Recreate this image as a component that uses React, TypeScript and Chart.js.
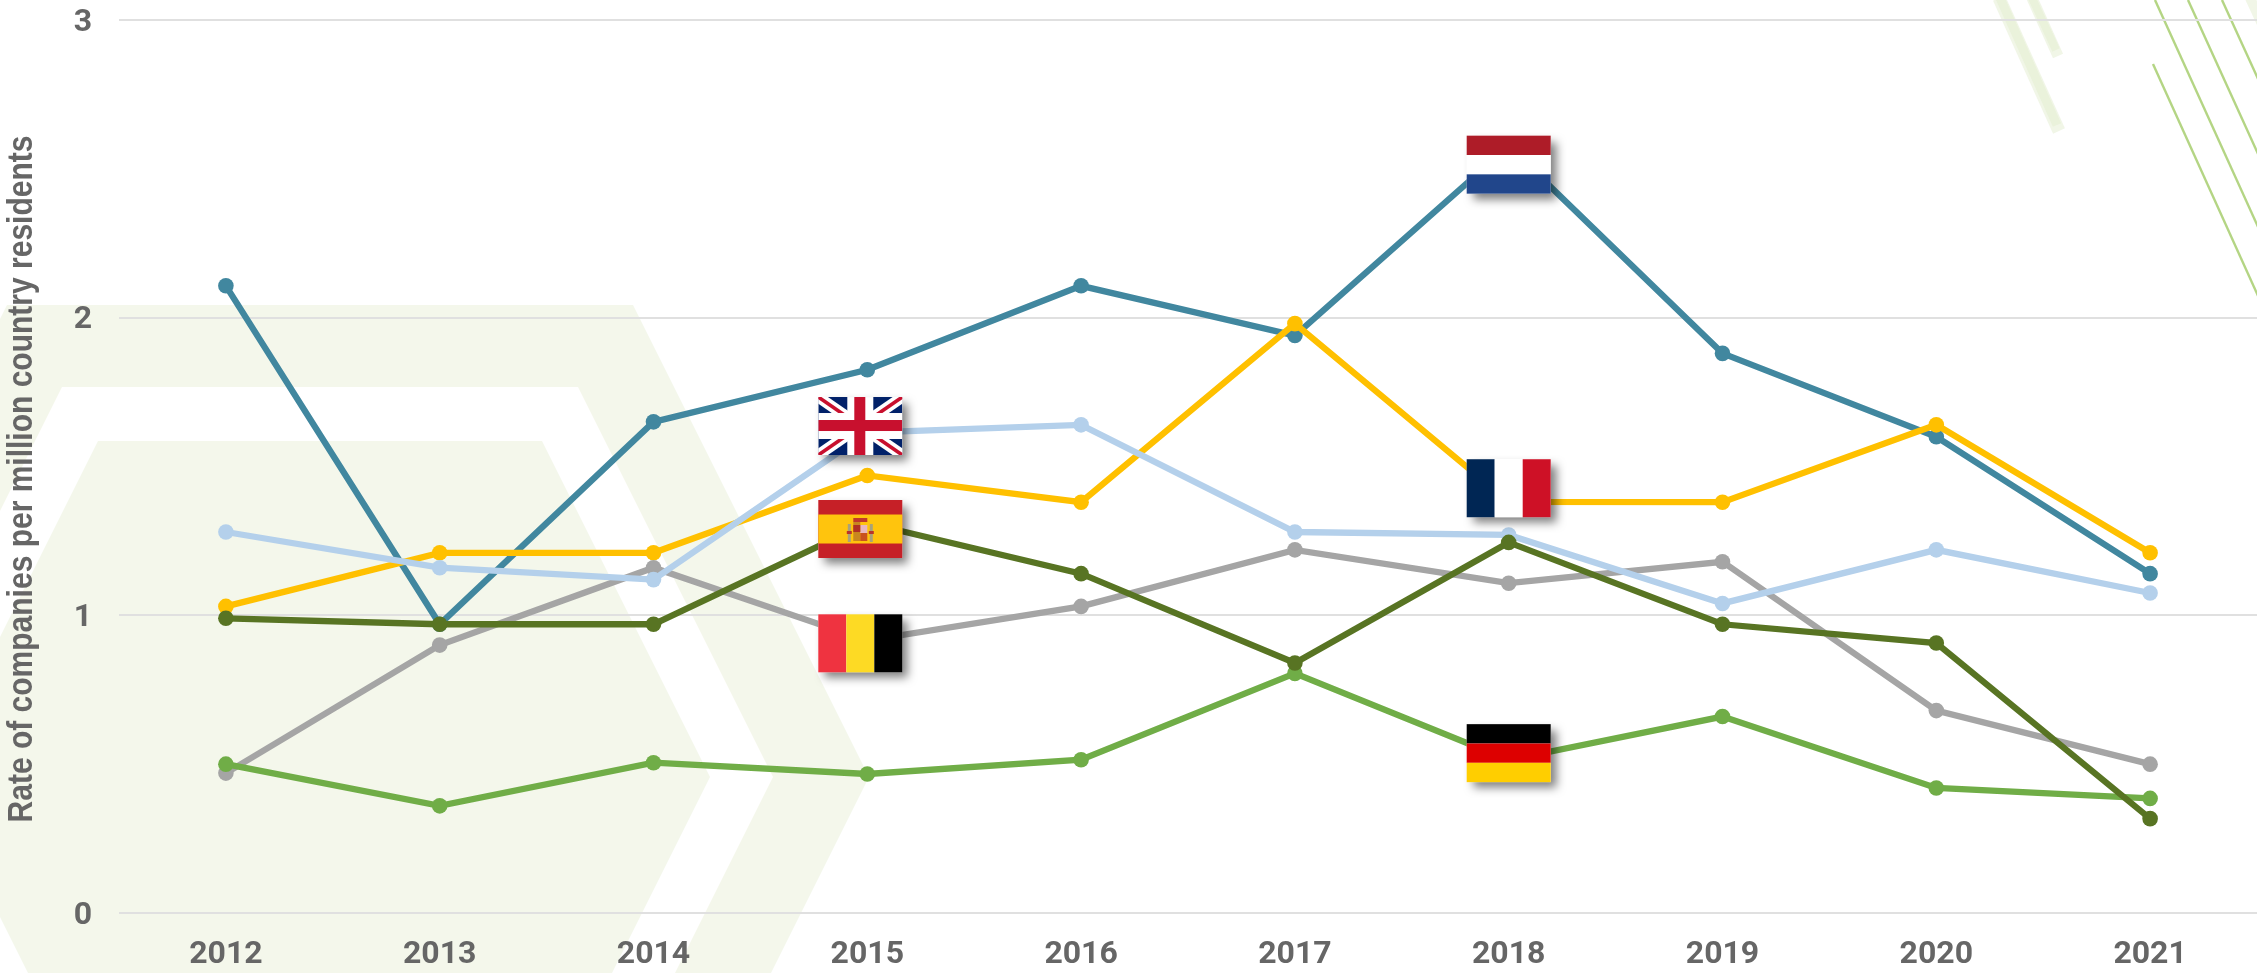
import React, { useEffect, useRef } from "react";
import { Chart, registerables } from "chart.js";

Chart.register(...registerables);

const years = ["2012", "2013", "2014", "2015", "2016", "2017", "2018", "2019", "2020", "2021"];
const netherlands = [2.107, 0.97, 1.65, 1.825, 2.107, 1.94, 2.576, 1.88, 1.6, 1.14];
const france = [1.03, 1.21, 1.21, 1.47, 1.38, 1.98, 1.381, 1.38, 1.64, 1.21];
const unitedKingdom = [1.28, 1.16, 1.12, 1.614, 1.64, 1.28, 1.27, 1.04, 1.22, 1.075];
const belgium = [0.47, 0.9, 1.16, 0.915, 1.03, 1.22, 1.108, 1.18, 0.68, 0.5];
const spain = [0.99, 0.97, 0.97, 1.31, 1.14, 0.84, 1.245, 0.97, 0.907, 0.317];
const germany = [0.5, 0.36, 0.505, 0.467, 0.515, 0.805, 0.514, 0.66, 0.42, 0.385];
const yTicks = [0, 1, 2, 3];
const yTitle = "Rate of companies per million country residents";

type FlagName = "uk" | "es" | "be" | "nl" | "fr" | "de";
const flagNames: FlagName[] = ["uk", "es", "be", "nl", "fr", "de"];
const flagYears = ["2015", "2015", "2015", "2018", "2018", "2018"];
const flagCentres = [1.636, 1.29, 0.906, 2.514, 1.427, 0.537];
const flagShiftX = [-7, -7, -7, 0, 0, 0];

const FLAG_W = 84;
const FLAG_H = 58;
const TICK_COLOR = "#666666";
const GRID_COLOR = "#E0E0E0";
const PALE = "#F4F7EB";

function hexagon(ctx: CanvasRenderingContext2D, left: number, right: number, top: number, fill: string) {
  const midY = 777;
  const run = (midY - top) / 2;
  ctx.beginPath();
  ctx.moveTo(left, top);
  ctx.lineTo(right, top);
  ctx.lineTo(right + run, midY);
  ctx.lineTo(right, midY * 2 - top);
  ctx.lineTo(left, midY * 2 - top);
  ctx.lineTo(left - run, midY);
  ctx.closePath();
  ctx.fillStyle = fill;
  ctx.fill();
}

function stroke(ctx: CanvasRenderingContext2D, x0: number, y0: number, x1: number, y1: number, w: number, c: string) {
  ctx.beginPath();
  ctx.moveTo(x0, y0);
  ctx.lineTo(x1, y1);
  ctx.lineWidth = w;
  ctx.strokeStyle = c;
  ctx.lineCap = "butt";
  ctx.stroke();
}

const backdrop = {
  id: "backdrop",
  beforeDraw(chart: Chart) {
    const ctx = chart.ctx;
    ctx.save();
    ctx.fillStyle = "#FFFFFF";
    ctx.fillRect(0, 0, chart.width, chart.height);
    hexagon(ctx, 7, 633, 305, PALE);
    hexagon(ctx, 62, 578, 387, "#FFFFFF");
    hexagon(ctx, 98, 542, 441, PALE);
    stroke(ctx, 1999, -2, 2059, 131, 13, "#F1F6E7");
    stroke(ctx, 2000, -2, 2057, 125, 9, "#EAF2DB");
    stroke(ctx, 2032, -2, 2058, 56, 11, "#F1F6E7");
    stroke(ctx, 2032, -2, 2056, 50, 8, "#EAF2DB");
    stroke(ctx, 2250, -2, 2262, 24, 10, "#F1F6E7");
    stroke(ctx, 2153, 64, 2259, 298, 2.4, "#B4D584");
    stroke(ctx, 2155, 0, 2259, 229, 2.4, "#B4D584");
    stroke(ctx, 2188, 0, 2259, 156, 2.4, "#B4D584");
    stroke(ctx, 2222, 0, 2259, 81, 2.4, "#B4D584");
    ctx.restore();
  },
};

function paintFlag(ctx: CanvasRenderingContext2D, name: FlagName, x: number, y: number) {
  const w = FLAG_W;
  const h = FLAG_H;
  const bars = (colors: string[], vertical: boolean) => {
    colors.forEach((c, i) => {
      ctx.fillStyle = c;
      if (vertical) ctx.fillRect(x + (i * w) / colors.length, y, w / colors.length, h);
      else ctx.fillRect(x, y + (i * h) / colors.length, w, h / colors.length);
    });
  };
  if (name === "be") bars(["#EF3340", "#FDDA24", "#000000"], true);
  if (name === "fr") bars(["#002654", "#FFFFFF", "#CE1126"], true);
  if (name === "nl") bars(["#AE1C28", "#FFFFFF", "#21468B"], false);
  if (name === "de") bars(["#000000", "#DD0000", "#FFCE00"], false);
  if (name === "es") {
    ctx.fillStyle = "#C62027";
    ctx.fillRect(x, y, w, h);
    ctx.fillStyle = "#FFC40D";
    ctx.fillRect(x, y + 14.5, w, 29);
    const cx = x + 42;
    ctx.fillStyle = "#A8A27A";
    ctx.fillRect(cx - 12.5, y + 24, 3, 18);
    ctx.fillRect(cx + 9.5, y + 24, 3, 18);
    ctx.fillStyle = "#B9342C";
    ctx.fillRect(cx - 13.5, y + 31, 5, 3);
    ctx.fillRect(cx + 8.5, y + 31, 5, 3);
    ctx.fillStyle = "#C0392B";
    ctx.fillRect(cx - 7, y + 18, 14, 4);
    ctx.fillStyle = "#C8871F";
    ctx.fillRect(cx - 7, y + 22, 7, 19);
    ctx.fillStyle = "#E8B8C0";
    ctx.fillRect(cx, y + 25, 7, 8);
    ctx.fillStyle = "#C9521F";
    ctx.fillRect(cx, y + 33, 7, 8);
    ctx.fillStyle = "#B03024";
    ctx.fillRect(cx - 7, y + 25, 7, 7);
  }
  if (name === "uk") {
    ctx.save();
    ctx.beginPath();
    ctx.rect(x, y, w, h);
    ctx.clip();
    ctx.fillStyle = "#012169";
    ctx.fillRect(x, y, w, h);
    stroke(ctx, x, y, x + w, y + h, 11, "#FFFFFF");
    stroke(ctx, x + w, y, x, y + h, 11, "#FFFFFF");
    stroke(ctx, x, y, x + w, y + h, 3.6, "#C8102E");
    stroke(ctx, x + w, y, x, y + h, 3.6, "#C8102E");
    ctx.fillStyle = "#FFFFFF";
    ctx.fillRect(x + w / 2 - 13, y, 26, h);
    ctx.fillRect(x, y + h / 2 - 13, w, 26);
    ctx.fillStyle = "#C8102E";
    ctx.fillRect(x + w / 2 - 6, y, 11, h);
    ctx.fillRect(x, y + h / 2 - 6, w, 11);
    ctx.restore();
  }
}

const flags = {
  id: "flags",
  afterDatasetsDraw(chart: Chart) {
    const ctx = chart.ctx;
    const xs = chart.scales.x;
    const ys = chart.scales.y;
    flagNames.forEach((name, i) => {
      const x = xs.getPixelForValue(years.indexOf(flagYears[i])) + flagShiftX[i] - FLAG_W / 2;
      const y = ys.getPixelForValue(flagCentres[i]) - FLAG_H / 2;
      ctx.save();
      ctx.shadowColor = "rgba(0,0,0,0.5)";
      ctx.shadowBlur = 9;
      ctx.shadowOffsetX = 6;
      ctx.shadowOffsetY = 6;
      ctx.fillStyle = "#FFFFFF";
      ctx.fillRect(x, y, FLAG_W, FLAG_H);
      ctx.restore();
      ctx.save();
      paintFlag(ctx, name, x, y);
      ctx.restore();
    });
  },
};

const sideTitle = {
  id: "sideTitle",
  afterDraw(chart: Chart) {
    const ctx = chart.ctx;
    ctx.save();
    ctx.translate(32, 479);
    ctx.rotate(-Math.PI / 2);
    ctx.scale(1, 1.14);
    ctx.font = "bold 30px 'Liberation Sans'";
    ctx.fillStyle = TICK_COLOR;
    ctx.textAlign = "center";
    ctx.textBaseline = "alphabetic";
    ctx.fillText(yTitle, 0, 0);
    ctx.restore();
  },
};

function series(label: string, data: number[], color: string) {
  return {
    label,
    data,
    borderColor: color,
    backgroundColor: color,
    borderWidth: 6.3,
    pointRadius: 7.8,
    pointHoverRadius: 7.8,
    pointBorderWidth: 0,
    tension: 0,
    fill: false,
  };
}

export default function App() {
  const ref = useRef<HTMLCanvasElement>(null);
  useEffect(() => {
    if (!ref.current) return;
    const chart = new Chart(ref.current, {
      type: "line",
      data: {
        labels: years,
        datasets: [
          series("Spain", spain, "#587423"),
          series("Germany", germany, "#70AD47"),
          series("United Kingdom", unitedKingdom, "#B4D0EB"),
          series("Belgium", belgium, "#A5A5A5"),
          series("France", france, "#FFC000"),
          series("Netherlands", netherlands, "#41879F"),
        ],
      },
      options: {
        responsive: false,
        animation: false,
        layout: { autoPadding: false, padding: { top: 20, right: -2, bottom: 0, left: 0 } },
        plugins: { legend: { display: false }, title: { display: false }, tooltip: { enabled: false } },
        scales: {
          x: {
            offset: true,
            afterFit: (s: any) => {
              s.height = 60;
              s.paddingLeft = 0;
              s.paddingRight = 0;
            },
            grid: { display: false },
            border: { display: false },
            ticks: {
              color: TICK_COLOR,
              font: { family: "Roboto", size: 32, weight: "bold" },
              padding: 15,
              maxRotation: 0,
              autoSkip: false,
            },
          },
          y: {
            min: 0,
            max: 3,
            afterFit: (s: any) => {
              s.width = 119;
              s.paddingTop = 0;
              s.paddingBottom = 0;
            },
            afterBuildTicks: (s: any) => { s.ticks = yTicks.map((value) => ({ value })); },
            grid: { color: GRID_COLOR, lineWidth: 2, drawTicks: false },
            border: { display: false },
            ticks: {
              color: TICK_COLOR,
              font: { family: "Roboto", size: 32, weight: "bold" },
              padding: 27,
              labelOffset: 2.5,
            },
          },
        },
      },
      plugins: [backdrop, flags, sideTitle],
    } as any);
    return () => chart.destroy();
  }, []);
  return (
    <canvas
      ref={ref}
      width={2257}
      height={973}
      style={{ position: "fixed", left: 0, top: 0, width: 2257, height: 973, display: "block" }}
    />
  );
}
